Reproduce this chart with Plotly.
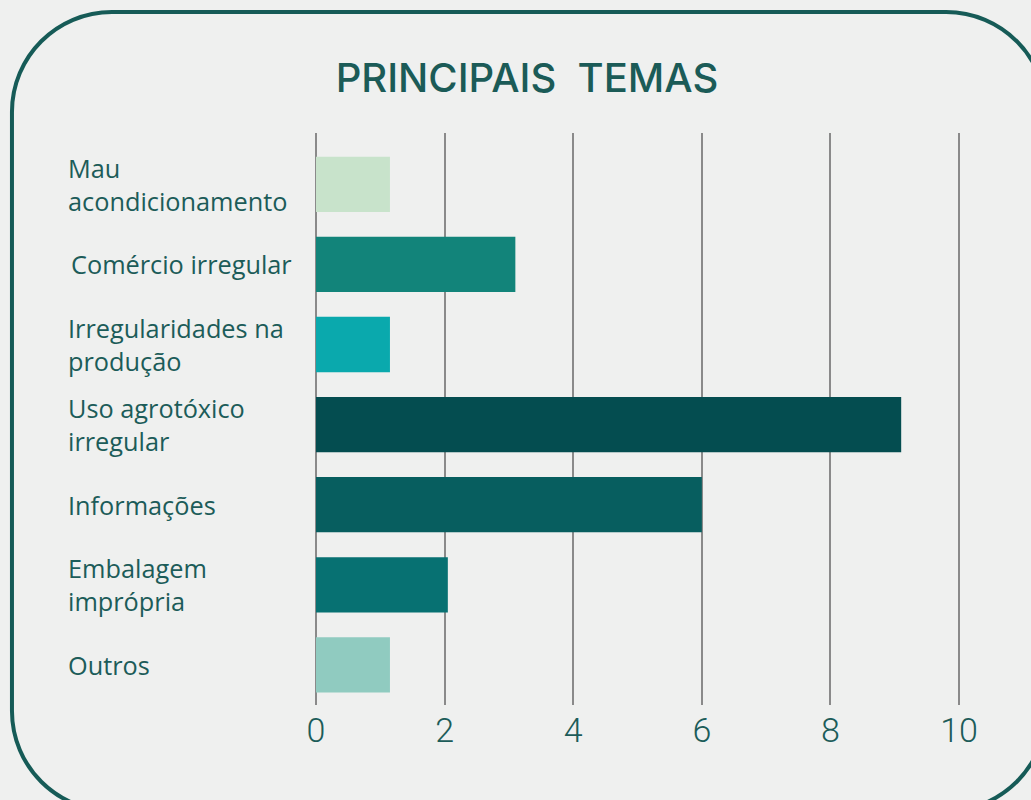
import plotly.graph_objects as go

# ---- data ----
categories = ["Mau<br>acondicionamento", "Comércio irregular", "Irregularidades na<br>produção",
              "Uso agrotóxico<br>irregular", "Informações", "Embalagem<br>imprópria", "Outros"]
values = [1.15, 3.1, 1.15, 9.1, 6.0, 2.05, 1.15]
bar_colors = ["#c8e3cb", "#12847a", "#0aa9ad", "#044d50", "#075e5f", "#077172", "#90cbc0"]
tick_vals = [0, 2, 4, 6, 8, 10]
tick_text = ["0", "2", "4", "6", "8", "10"]
title_text = "PRINCIPAIS&nbsp;&nbsp;TEMAS"

W, H = 1031, 800
XMAX = 10.03
UNIT = 64.3
L, T, B = 316, 133, 95
pw = UNIT * XMAX
R_ = W - L - pw
ph = H - T - B
TEAL = "#1c5c59"
BG = "#eff0ef"

def px2paper(x, y):
    return (x - L) / pw, (H - B - y) / ph

fig = go.Figure()
fig.add_trace(go.Bar(
    y=list(range(len(categories))), x=values, orientation="h",
    marker=dict(color=bar_colors, line=dict(width=0)),
    width=0.69, hoverinfo="skip",
))

# category labels (left aligned)
annotations = []
lx, _ = px2paper(66, 0)
for i, c in enumerate(categories):
    annotations.append(dict(
        text=c, xref="paper", yref="y", x=lx + (3 / pw if i == 1 else 0), y=i,
        xanchor="left", yanchor="middle", align="left", showarrow=False,
        font=dict(family="Open Sans", size=25.3, color=TEAL),
    ))

# rounded border path
x0, x1, y0, y1, r = 12, 1046, 12, 811, 100
k = 0.5523 * r
def P(x, y):
    a, b = px2paper(x, y)
    return f"{a:.5f},{b:.5f}"
path = (f"M {P(x0 + r, y0)} L {P(x1 - r, y0)} "
        f"C {P(x1 - r + k, y0)} {P(x1, y0 + r - k)} {P(x1, y0 + r)} "
        f"L {P(x1, y1 - r)} "
        f"C {P(x1, y1 - r + k)} {P(x1 - r + k, y1)} {P(x1 - r, y1)} "
        f"L {P(x0 + r, y1)} "
        f"C {P(x0 + r - k, y1)} {P(x0, y1 - r + k)} {P(x0, y1 - r)} "
        f"L {P(x0, y0 + r)} "
        f"C {P(x0, y0 + r - k)} {P(x0 + r - k, y0)} {P(x0 + r, y0)} Z")

fig.update_layout(
    width=W, height=H,
    margin=dict(l=L, r=R_, t=T, b=B, pad=0),
    paper_bgcolor=BG, plot_bgcolor="rgba(0,0,0,0)",
    showlegend=False,
    bargap=0.31,
    title=dict(text=title_text, xref="container", yref="container",
               x=527 / W, y=1 - 78 / H, xanchor="center", yanchor="middle",
               font=dict(family="Inter", size=40, color="#1b5b57", weight=500)),
    xaxis=dict(range=[0, XMAX], tickvals=tick_vals, ticktext=tick_text,
               showgrid=True, gridcolor="#8a8a8a", gridwidth=1.6,
               zeroline=True, zerolinecolor="#8a8a8a", zerolinewidth=1.6,
               showline=False, ticks="", ticklabelstandoff=2,
               tickfont=dict(family="Roboto", size=34, color=TEAL, weight=300)),
    yaxis=dict(range=[6.5, -0.64], showticklabels=False, showgrid=False,
               zeroline=False, showline=False),
    annotations=annotations,
    shapes=[dict(type="path", path=path, xref="paper", yref="paper",
                 line=dict(color="#165b57", width=4), fillcolor="rgba(0,0,0,0)", layer="below")],
)

fig.write_html("out.html", config={"displayModeBar": False},
               post_script="document.body.style.margin='0';document.body.style.background='%s';" % BG)
